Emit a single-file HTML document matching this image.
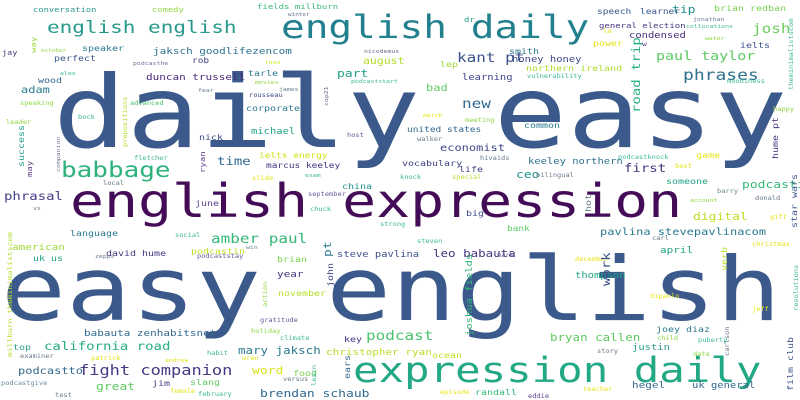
<!DOCTYPE html>
<html><head><meta charset="utf-8"><style>
html,body{margin:0;padding:0;background:#fff;}
svg{display:block;}
text{font-family:"DejaVu Sans Mono","Liberation Mono",monospace;}
</style></head><body>
<svg id="cloud" width="800" height="400" viewBox="0 0 800 400" xmlns="http://www.w3.org/2000/svg">
<rect width="800" height="400" fill="#fff"/>
</svg>
<script>
// words: [text, x, baselineY, fontSize, color, rotated]
const words = [
["daily easy",53,147,122,"#3b5a8b",0],
["easy english",1,320,108,"#3b5a8b",0],
["english expression",70,217,56.5,"#440b57",0],
["expression daily",353,382,42.4,"#22a884",0],
["english daily",281,38,39.4,"#23808e",0],
["english english",47,33,21,"#26998a",0],
["babbage",61,177,26,"#2db27d",0],
["amber paul",211,243,16,"#35b779",0],
["fight companion",79,375,17,"#443a83",0],
["california road",44,350,14,"#26ad81",0],
["phrasal",4,200,14,"#433e85",0],
["podcast",366,340,16,"#4ac16d",0],
["conversation",33,12,8.8,"#2a9a8a",0],
["comedy",152,12,8.8,"#8fd744",0],
["fields millburn",257,9,9,"#35b779",0],
["winter",288,16,6,"#6a6a8a",0],
["way",36,53,9,"#9bd93c",1],
["jay",2,55,8.5,"#46327e",0],
["october",41,52,6,"#8fd744",0],
["speaker",82,51,10,"#2a788e",0],
["perfect",54,61,10,"#38598c",0],
["jaksch goodlifezencom",153,54,11,"#2c728e",0],
["podcasthe",133,65,6.5,"#7a6aa0",0],
["rob",192,63,9.5,"#414487",0],
["ross",265,64,6.5,"#d0e11c",0],
["august",363,64,11.5,"#b5de2b",0],
["part",337,77,13,"#1f9e89",0],
["nicodemus",364,53,6.5,"#6a6a8a",0],
["alex",60,75,6.5,"#3db89a",0],
["tarle",248,76,10,"#2a788e",0],
["podcaststart",351,83,6.5,"#3db89a",0],
["wood",38,83,10,"#31688e",0],
["duncan trussell",146,80,11,"#482878",0],
["adam",21,93,12,"#2a788e",0],
["movies",255,84,6.5,"#8fd744",0],
["fear",198,92,6.5,"#6a7a8a",0],
["james",279,91,6.5,"#6a7a8a",0],
["rousseau",249,97,7,"#3e4a89",0],
["cop21",328,106,6.5,"#6a6a8a",1],
["speaking",20,105,7,"#8fd744",0],
["advanced",130,105,7,"#4ac16d",0],
["prepositions",127,147,7,"#b5de2b",1],
["corporate",246,111,10,"#2a788e",0],
["bock",78,119,7,"#3db89a",0],
["leader",6,124,7,"#8fd744",0],
["michael",251,134,10.5,"#20a386",0],
["success",24,167,10,"#1f9e89",1],
["companion",60,172,6.5,"#7a7a9a",1],
["nick",199,140,10,"#3e4a89",0],
["host",347,137,7,"#6a5a9a",0],
["may",32,177,9,"#5a3e8a",1],
["time",217,165,14,"#31688e",0],
["ryan",205,173,9,"#5a3e8a",1],
["ielts energy",259,158,9.5,"#d2e21b",0],
["fletcher",134,160,7,"#3db89a",0],
["marcus keeley",266,168,9.5,"#46327e",0],
["exam",305,177,6.5,"#3db89a",0],
["slide",252,180,7,"#e5e419",0],
["local",103,185,7,"#6a7a8a",0],
["china",342,189,10,"#21918c",0],
["september",308,196,7,"#6a5a9a",0],
["june",195,206,10,"#5a3e8a",0],
["speech",597,14,9.5,"#38598c",0],
["learner",640,14,9.5,"#38598c",0],
["tip",672,13,13,"#21918c",0],
["brian redban",714,11,10,"#7ad151",0],
["dr",464,22,9,"#2a9d8a",0],
["general election",599,28,9,"#46327e",0],
["jonathan",693,21,6.5,"#6a7a9a",0],
["collocations",686,28,6.5,"#3db89a",0],
["josh",752,33,16,"#6ccd5a",0],
["la",603,33,7,"#e5e419",0],
["condensed",629,38,10.5,"#482878",0],
["water",705,40,6.5,"#8fd744",0],
["power",593,46,10,"#e5e419",0],
["w",642,46,8,"#5a3e8a",0],
["smith",509,54,10,"#2a788e",0],
["ielts",740,48,10,"#3b528b",0],
["theminimalistscom",793,90,7,"#3db89a",1],
["kant pt",457,62,16,"#3b528b",0],
["honey honey",512,62,10.5,"#3e4a89",0],
["paul taylor",656,60,15,"#5ec962",0],
["road trip",640,113,14,"#2ab07f",1],
["lep",440,67,10,"#a0da39",0],
["northern ireland",526,71,10,"#addc30",0],
["phrases",683,80,18,"#2c728e",0],
["learning",462,80,10.5,"#414487",0],
["vulnerability",527,78,7,"#3db89a",0],
["bad",426,91,12,"#5ec962",0],
["moodiness",727,83,7,"#3db89a",0],
["new",462,108,16,"#31688e",0],
["happy",773,111,7,"#8fd744",0],
["march",423,117,6.5,"#e5e419",0],
["meeting",465,122,7,"#8fd744",0],
["hume pt",778,159,10,"#443983",1],
["united states",407,132,9.5,"#31688e",0],
["common",524,128,10,"#2a788e",0],
["walker",417,141,7,"#6a7a8a",0],
["economist",440,151,12,"#3e4a89",0],
["game",696,158,10,"#e5e419",0],
["vocabulary",402,166,10,"#414487",0],
["hivaids",480,160,7,"#6a7a8a",0],
["keeley northern",528,164,10.5,"#2c728e",0],
["podcastknock",618,159,7,"#3db89a",0],
["life",459,172,10,"#414487",0],
["first",624,172,14,"#46327e",0],
["best",675,168,7,"#e5e419",0],
["ceo",516,178,13,"#21918c",0],
["bilingual",536,177,7,"#6a7a8a",0],
["special",452,179,7,"#b5de2b",0],
["knock",400,179,7,"#3db89a",0],
["someone",666,184,10,"#20a386",0],
["podcasting",742,188,13,"#35b779",0],
["barry",717,193,7,"#6a8a8a",0],
["donald",755,200,7,"#6a7a8a",0],
["star wars",797,228,10,"#3b528b",1],
["vs",33,210,6.5,"#6a7a8a",0],
["chuck",310,211,7,"#3db89a",0],
["strong",380,226,7,"#3db89a",0],
["language",70,236,10,"#2a788e",0],
["social",175,237,7,"#3db89a",0],
["american",12,250,11,"#a0da39",0],
["podcastin",191,254,10,"#c2df23",0],
["win",246,249,6.5,"#6a8a8a",0],
["pt",331,257,13,"#2a788e",1],
["steve pavlina",337,257,10.5,"#3b528b",0],
["david hume",106,256,10,"#46327e",0],
["uk us",33,261,10,"#20a386",0],
["zepps",95,258,6.5,"#6a7a8a",0],
["podcaststay",197,258,7,"#6a5a9a",0],
["brian",277,262,10,"#7ad151",0],
["year",277,277,11,"#46327e",0],
["john",333,287,10,"#414487",1],
["millburn theminimalistscom",12,357,8,"#b5de2b",1],
["action",267,307,7,"#8fd744",1],
["november",278,296,10,"#b5de2b",0],
["gratitude",260,322,7,"#6a5a9a",0],
["babauta zenhabitsnet",84,336,11,"#31688e",0],
["holiday",251,333,7,"#8fd744",0],
["key",344,342,10,"#46327e",0],
["climate",280,340,7,"#3db89a",0],
["top",13,350,10,"#2a9d8a",0],
["mary jaksch",238,354,12.5,"#2a788e",0],
["christopher ryan",326,355,11,"#b5de2b",0],
["examiner",20,358,7,"#6a7a8a",0],
["patrick",91,360,7,"#e5e419",0],
["habit",207,355,7,"#3db89a",0],
["andrew",165,362,6.5,"#e5e419",0],
["wren",242,360,7,"#e5e419",0],
["ears",350,379,10,"#31688e",1],
["podcastto",18,374,12,"#31688e",0],
["word",252,374,13,"#d8e219",0],
["food",293,376,10,"#7ad151",0],
["versus",283,381,7,"#6a7a8a",0],
["learn",316,386,7,"#3db89a",1],
["podcastgive",1,385,7,"#6a8a9a",0],
["great",96,390,13,"#5ec962",0],
["jim",152,386,10,"#414487",0],
["slang",190,385,10,"#5ec962",0],
["female",170,393,7,"#e5e419",0],
["february",198,396,7,"#3db89a",0],
["brendan schaub",260,397,13,"#31688e",0],
["test",55,397,7,"#6a7a8a",0],
["account",690,202,6.5,"#8fd744",0],
["hot",591,212,10,"#6a7a8a",1],
["big",466,216,10,"#3e4a89",0],
["digital",693,220,13,"#bddf26",0],
["gift",770,219,7,"#e5e419",0],
["bank",507,231,9.5,"#5ec962",0],
["pavlina stevepavlinacom",600,235,12,"#2a788e",0],
["carl",652,240,7,"#6a7a8a",0],
["steven",417,243,7,"#3db89a",0],
["christmas",752,246,7,"#e5e419",0],
["april",660,253,11,"#20a386",0],
["leo babauta",433,257,12.5,"#46327e",0],
["mark",497,257,7,"#6a5a9a",0],
["december",575,261,7,"#e5e419",0],
["verb",727,271,10,"#b5de2b",1],
["thompson",575,278,10.5,"#20a386",0],
["joshua fields",472,336,10.5,"#35b779",1],
["work",610,286,14,"#3b528b",1],
["resolutions",798,311,7,"#3db89a",1],
["dipaolo",650,298,7,"#e5e419",0],
["jeff",752,311,7,"#e5e419",0],
["joey diaz",656,332,10,"#2a788e",0],
["bryan callen",550,341,12.5,"#5ec962",0],
["carlson",729,356,7,"#6a7a8a",1],
["child",657,340,7,"#8fd744",0],
["puberty",698,342,7,"#3db89a",0],
["story",597,353,7,"#6a7a8a",0],
["justin",632,350,10.5,"#2a9d8a",0],
["film club",793,391,10,"#3b528b",1],
["date",693,356,7,"#8fd744",0],
["ocean",432,358,10,"#c2df23",0],
["episode",440,394,7,"#e5e419",0],
["randall",475,395,10,"#35b779",0],
["teacher",583,391,7,"#e5e419",0],
["eddie",528,398,7,"#5a3e8a",0],
["hegel",632,388,11,"#31688e",0],
["uk general",692,388,10.5,"#31688e",0]
];
const VSCALE = 0.82;
const svg = document.getElementById('cloud');
const NS = 'http://www.w3.org/2000/svg';
for (const w of words) {
  const t = document.createElementNS(NS, 'text');
  t.setAttribute('x', 0);
  t.setAttribute('y', 0);
  t.setAttribute('font-size', w[3]);
  t.setAttribute('fill', w[4]);
  t.setAttribute('transform', 'translate(' + w[1] + ' ' + w[2] + ')' + (w[5] ? ' rotate(-90)' : '') + ' scale(1 ' + VSCALE + ')');
  t.textContent = w[0];
  
  
  svg.appendChild(t);
}
</script>
</body></html>
